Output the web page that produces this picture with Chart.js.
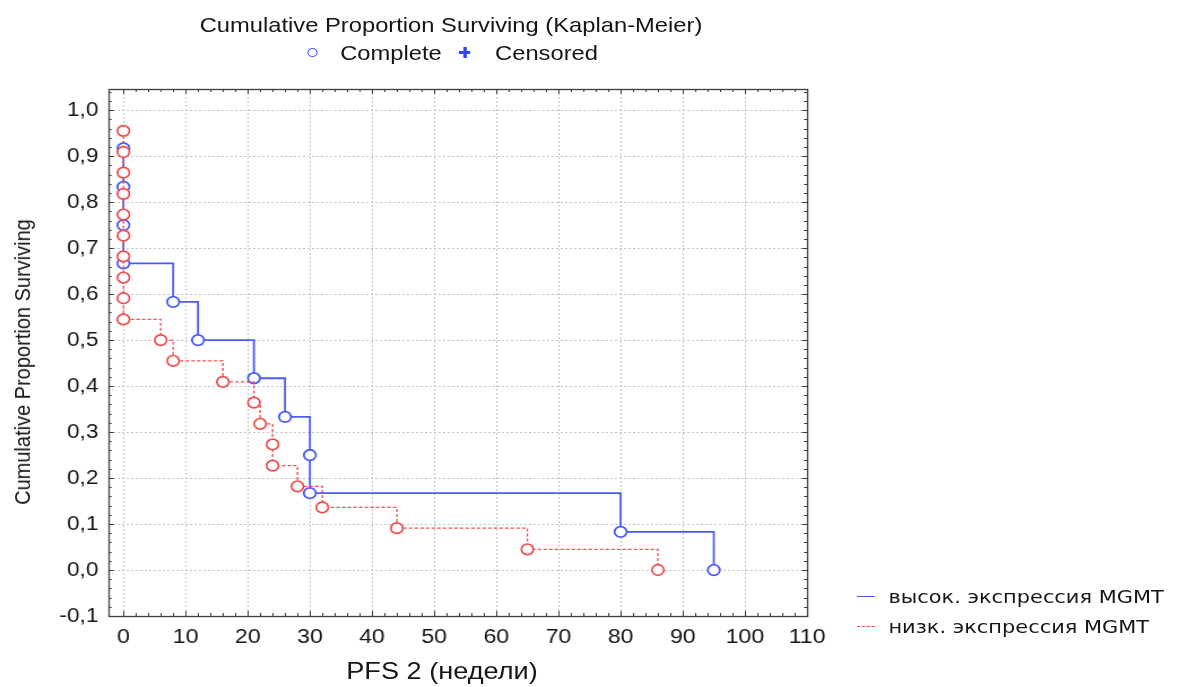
<!DOCTYPE html>
<html>
<head>
<meta charset="utf-8">
<script src="https://cdn.jsdelivr.net/npm/chart.js@4.4.1/dist/chart.umd.min.js"></script>
<style>
  html, body { margin: 0; padding: 0; background: #fff; overflow: hidden; }
  #wrap { position: absolute; left: 0; top: 0; width: 1044px; height: 687px; transform: scaleX(1.1303); transform-origin: 0 0; }
  #c { position: absolute; left: 0; top: 0; }
  .t { position: absolute; font-family: "Liberation Sans", Arial, sans-serif; color: #151515; white-space: nowrap; line-height: 24px; }
  .lg { position: absolute; font-family: "DejaVu Sans", sans-serif; color: #151515; white-space: nowrap; line-height: 24px; font-size: 18.5px; }
</style>
</head>
<body>
<div id="wrap">
  <canvas id="c" width="1044" height="687" style="width:1044px;height:687px"></canvas>
  <div class="t" id="title" style="left:399px; top:13px; font-size:21px; transform:translateX(-50%);">Cumulative Proportion Surviving (Kaplan-Meier)</div>
  <span style="position:absolute; left:272px; top:48px; width:7px; height:7px; border:1.6px solid #4b5cf2; border-radius:50%;"></span>
  <div class="t" style="left:301px; top:41px; font-size:21px;">Complete</div>
  <span style="position:absolute; left:406px; top:51px; width:10px; height:3px; background:#2f45f0;"></span>
  <span style="position:absolute; left:409.5px; top:47px; width:3px; height:11px; background:#2f45f0;"></span>
  <div class="t" style="left:438px; top:41px; font-size:21px;">Censored</div>
  <div class="t" id="xtitle" style="left:391px; top:657px; font-size:24px; line-height:28px; transform:translateX(-50%);"></div>
  <div class="t" id="ytitle" style="left:19.5px; top:362px; font-size:20px; transform:translate(-50%,-50%) rotate(-90deg);"></div>
  <span style="position:absolute; left:758px; top:596px; width:16px; height:0; border-top:1.6px solid #4b5cf2;"></span>
  <div class="lg" id="lg0" style="left:786px; top:585px;"></div>
  <span style="position:absolute; left:758px; top:626px; width:16px; height:0; border-top:1.3px dashed #f04a4a;"></span>
  <div class="lg" id="lg1" style="left:786px; top:615px;"></div>
</div>
<script>
// ---- data ----
const highTimes = [0, 0, 0, 0, 8, 12, 21, 26, 30, 30, 80, 95];
const highSurv  = [0.917, 0.833, 0.750, 0.667, 0.583, 0.500, 0.417, 0.333, 0.250, 0.167, 0.083, 0.000];
const lowTimes  = [0, 0, 0, 0, 0, 0, 0, 0, 0, 0, 6, 8, 16, 21, 22, 24, 24, 28, 32, 44, 65, 86];
const lowSurv   = [0.955, 0.909, 0.864, 0.818, 0.773, 0.727, 0.682, 0.636, 0.591, 0.545, 0.500, 0.455, 0.409, 0.364, 0.318, 0.273, 0.227, 0.182, 0.136, 0.091, 0.045, 0.000];
const xTicks = [0, 10, 20, 30, 40, 50, 60, 70, 80, 90, 100, 110];
const yTicks = [-0.1, 0.0, 0.1, 0.2, 0.3, 0.4, 0.5, 0.6, 0.7, 0.8, 0.9, 1.0];
const seriesNames = ['высок. экспрессия MGMT', 'низк. экспрессия MGMT'];
const xTitle = 'PFS 2 (недели)';
const yTitle = 'Cumulative Proportion Surviving';

document.getElementById('xtitle').textContent = xTitle;
document.getElementById('ytitle').textContent = yTitle;
document.getElementById('lg0').textContent = seriesNames[0];
document.getElementById('lg1').textContent = seriesNames[1];

const BLUE = '#4b5cf2';
const RED = '#f04a4a';

const toPts = (xs, ys) => xs.map((x, i) => ({x: x, y: ys[i]}));

const framePlugin = {
  id: 'frame',
  afterDraw(chart) {
    const {ctx, chartArea: a, scales: {x, y}} = chart;
    ctx.save();
    ctx.strokeStyle = '#3a3a3a';
    ctx.lineWidth = 1;
    ctx.beginPath();
    const xs = [];
    for (let i = 0; i < xTicks.length; i++) {
      xs.push([xTicks[i], 5]);
      if (i < xTicks.length - 1) {
        const st = (xTicks[i + 1] - xTicks[i]) / 5;
        for (let k = 1; k < 5; k++) xs.push([xTicks[i] + k * st, 3]);
      }
    }
    xs.forEach(([v, len]) => {
      const px = Math.round(x.getPixelForValue(v)) + 0.5;
      ctx.moveTo(px, a.bottom); ctx.lineTo(px, a.bottom - len);
      ctx.moveTo(px, a.top); ctx.lineTo(px, a.top + len);
    });
    const ys = [];
    const yst = (yTicks[1] - yTicks[0]) / 5;
    for (let i = 0; i < yTicks.length; i++) {
      ys.push([yTicks[i], 4.5]);
      for (let k = 1; k < 5; k++) {
        const v = yTicks[i] + k * yst;
        if (v <= y.max) ys.push([v, 2.7]);
      }
    }
    ys.forEach(([v, len]) => {
      const py = Math.round(y.getPixelForValue(v)) + 0.5;
      ctx.moveTo(a.left, py); ctx.lineTo(a.left + len, py);
      ctx.moveTo(a.right, py); ctx.lineTo(a.right - len, py);
    });
    ctx.stroke();
    ctx.strokeStyle = '#3c3c3c';
    ctx.lineWidth = 1.3;
    ctx.strokeRect(Math.round(a.left) + 0.5, Math.round(a.top) + 0.5, Math.round(a.right - a.left), Math.round(a.bottom - a.top));
    ctx.restore();
  }
};

new Chart(document.getElementById('c'), {
  type: 'line',
  data: {
    datasets: [
      {
        label: seriesNames[0],
        data: toPts(highTimes, highSurv),
        borderColor: BLUE,
        borderWidth: 1.8,
        stepped: 'before',
        pointRadius: 5.3,
        pointBorderWidth: 1.8,
        pointBackgroundColor: '#ffffff',
        pointBorderColor: BLUE,
        order: 1,
        fill: false
      },
      {
        label: seriesNames[1],
        data: toPts(lowTimes, lowSurv),
        borderColor: RED,
        borderWidth: 1.3,
        borderDash: [3, 2],
        stepped: 'before',
        pointRadius: 5.3,
        pointBorderWidth: 1.7,
        pointBackgroundColor: '#ffffff',
        pointBorderColor: RED,
        order: 0,
        fill: false
      }
    ]
  },
  options: {
    responsive: false,
    animation: false,
    devicePixelRatio: 1,
    layout: { padding: { left: 0, top: 89, right: 330, bottom: 0 } },
    plugins: { legend: { display: false }, title: { display: false }, tooltip: { enabled: false } },
    scales: {
      x: {
        type: 'linear',
        min: -2.4,
        max: 110,
        afterBuildTicks: s => { s.ticks = xTicks.map(v => ({value: v})); },
        afterFit: s => { s.height = 71; },
        grid: { color: '#c4c4c4', lineWidth: 1, drawTicks: false },
        border: { display: false, dash: [2, 2] },
        ticks: {
          padding: 9,
          color: '#151515',
          font: { family: 'Liberation Sans', size: 20.5 },
          maxRotation: 0,
          autoSkip: false,
          callback: v => String(v)
        },
        title: { display: false }
      },
      y: {
        type: 'linear',
        min: -0.1,
        max: 1.046,
        afterBuildTicks: s => { s.ticks = yTicks.map(v => ({value: v})); },
        afterFit: s => { s.width = 96; },
        grid: { color: '#c4c4c4', lineWidth: 1, drawTicks: false },
        border: { display: false, dash: [2, 2] },
        ticks: {
          padding: 9,
          color: '#151515',
          font: { family: 'Liberation Sans', size: 20 },
          autoSkip: false,
          callback: v => v.toFixed(1).replace('.', ',')
        },
        title: { display: false }
      }
    }
  },
  plugins: [framePlugin]
});
</script>
</body>
</html>
